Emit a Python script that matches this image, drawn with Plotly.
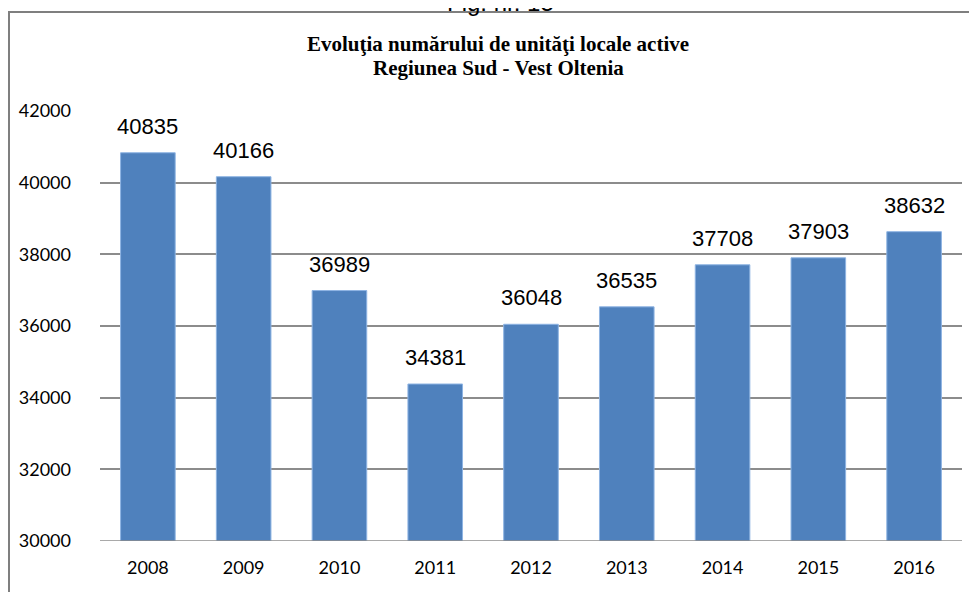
import plotly.graph_objects as go

years = ["2008", "2009", "2010", "2011", "2012", "2013", "2014", "2015", "2016"]
units = [40835, 40166, 36989, 34381, 36048, 36535, 37708, 37903, 38632]
y_ticks = [30000, 32000, 34000, 36000, 38000, 40000, 42000]
title_lines = ["Evoluţia numărului de unităţi locale active", "Regiunea Sud - Vest Oltenia"]

# the page has an 8px body margin: paper coords below are from target page pixels
def px(x):
    return (x - 100) / 862

def py(y):
    return (541 - y) / 430

fig = go.Figure()

fig.add_trace(go.Bar(
    x=years, y=units,
    marker=dict(color="#4F81BD", line=dict(color="#8EB4E3", width=1)),
    hoverinfo="x+y",
))

# data labels above bars (category index positions)
for i, val in enumerate(units):
    fig.add_annotation(
        x=i, y=val, text=str(val), showarrow=False,
        yanchor="bottom", yshift=12,
        font=dict(family="Liberation Sans, Arial", size=22, color="#000000"),
    )

# two-line bold title
for i, line in enumerate(title_lines):
    fig.add_annotation(
        xref="paper", yref="paper", x=px(498), y=py(44 + 24 * i),
        text="<b>" + line + "</b>",
        showarrow=False, xanchor="center", yanchor="middle",
        font=dict(family="Liberation Serif, Times New Roman", size=21, color="#000000"),
    )

# caption cut off at top of the page
fig.add_annotation(
    xref="paper", yref="paper", x=px(500), y=py(2),
    text="Fig. nr. 15", showarrow=False, xanchor="center", yanchor="middle",
    font=dict(family="Liberation Sans, Arial", size=24, color="#000000"),
)

# page frame
fig.add_shape(
    type="rect", xref="paper", yref="paper",
    x0=px(9), x1=1.2, y0=-0.3, y1=py(12),
    line=dict(color="#7f7f7f", width=2), fillcolor="rgba(0,0,0,0)", layer="below",
)

fig.update_layout(
    width=977, height=592,
    margin=dict(l=92, r=23, t=103, b=59),
    paper_bgcolor="white", plot_bgcolor="white",
    showlegend=False,
    bargap=0.43,
    xaxis=dict(
        type="category", range=[-0.5, len(years) - 0.5],
        showgrid=False, showline=False, ticks="",
        tickfont=dict(family="Lato, Open Sans", size=18, color="#000000"),
        ticklabelstandoff=14, automargin=False,
    ),
    yaxis=dict(
        range=[30000, 42000], tickvals=y_ticks, tickformat="d",
        showgrid=True, gridcolor="#8c8c8c", gridwidth=1.5,
        zeroline=False, showline=False,
        tickfont=dict(family="Lato, Open Sans", size=18, color="#000000"),
        ticklabelstandoff=28, automargin=False,
    ),
)
fig.add_hline(y=30000, line=dict(color="#8c8c8c", width=1.5))

fig.write_html("out.html")
